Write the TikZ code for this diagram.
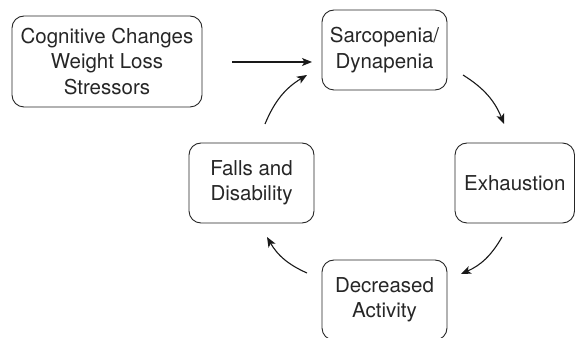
\documentclass[tikz,border=0pt]{standalone}
\usepackage{fontspec}
\setmainfont{TeX Gyre Heros}
\usetikzlibrary{arrows.meta}
\begin{document}
\begin{tikzpicture}[x=1pt,y=1pt,
  box/.style={draw=black!85, line width=0.9pt, rounded corners=12pt, align=center,
    inner sep=0pt, font=\fontsize{20.5}{25.5}\selectfont, text=black!85},
  arr/.style={draw=black!90, line width=1.1pt, -{Stealth[length=10pt,width=8pt,inset=2.5pt]}}]
\useasboundingbox (0,0) rectangle (575,337);
\clip (0,0) rectangle (575,337);
\node[box, minimum width=190pt, minimum height=91pt] (cog) at (107,275.5)
  {Cognitive Changes\\Weight Loss\\Stressors};
\node[box, minimum width=125pt, minimum height=80pt] (sar) at (384.5,287)
  {Sarcopenia/\\Dynapenia};
\node[box, minimum width=119.5pt, minimum height=80pt] (exh) at (514.75,154)
  {Exhaustion};
\node[box, minimum width=125pt, minimum height=80pt] (dec) at (384.5,37)
  {Decreased\\Activity};
\node[box, minimum width=125pt, minimum height=80pt] (fal) at (251.5,154)
  {Falls and\\Disability};
\coordinate (a1s) at (232,275);
\coordinate (a1e) at (312,275);
\coordinate (a2s) at (265,213);
\coordinate (a2e) at (307,262);
\coordinate (a3s) at (463,262);
\coordinate (a3e) at (504,213);
\coordinate (a4s) at (502,100);
\coordinate (a4e) at (461,63);
\coordinate (a5s) at (307,64);
\coordinate (a5e) at (267,100);
\draw[arr] (a1s) -- (a1e);
\draw[arr] (a2s) to[bend left=18] (a2e);
\draw[arr] (a3s) to[bend left=18] (a3e);
\draw[arr] (a4s) to[bend left=18] (a4e);
\draw[arr] (a5s) to[bend left=18] (a5e);
\end{tikzpicture}
\end{document}
